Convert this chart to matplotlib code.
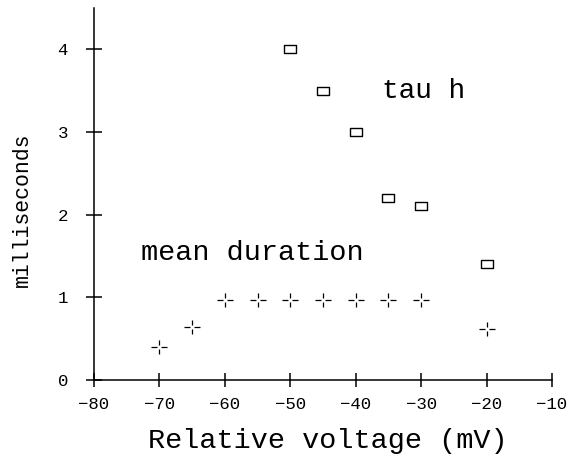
"""Inactivation time constant and mean open duration against relative voltage."""

import matplotlib
matplotlib.use("Agg")
import matplotlib.pyplot as plt
from matplotlib.path import Path

# tau h (open squares)
tau_v = [-50, -45, -40, -35, -30, -20]
tau_ms = [4.0, 3.5, 3.0, 2.2, 2.1, 1.4]

# mean duration (broken crosses)
dur_v = [-70, -65, -60, -55, -50, -45, -40, -35, -30, -20]
dur_ms = [0.40, 0.64, 0.97, 0.97, 0.97, 0.97, 0.97, 0.97, 0.97, 0.62]

xticks = [-80, -70, -60, -50, -40, -30, -20, -10]
yticks = [0, 1, 2, 3, 4]

FONT = "Liberation Mono"
plt.rcParams["font.family"] = [FONT, "DejaVu Sans Mono"]


def open_box():
    # slightly flat rectangle, like a plotter square
    verts = [(-1, -0.8), (1, -0.8), (1, 0.8), (-1, 0.8), (-1, -0.8)]
    codes = [Path.MOVETO] + [Path.LINETO] * 3 + [Path.CLOSEPOLY]
    return Path(verts, codes)


def broken_cross(gap=0.28):
    # plus sign whose four arms stop short of the centre
    verts, codes = [], []
    for (x0, y0), (x1, y1) in [((-1, 0), (-gap, 0)), ((gap, 0), (1, 0)),
                               ((0, -0.85), (0, -gap)), ((0, gap), (0, 0.85))]:
        verts += [(x0, y0), (x1, y1)]
        codes += [Path.MOVETO, Path.LINETO]
    return Path(verts, codes)


fig = plt.figure(figsize=(5.7, 4.55), dpi=100)
ax = fig.add_axes([0.1649, 0.1648, 0.8035, 0.8176])

ax.plot(tau_v, tau_ms, ls="none", marker=open_box(), ms=8,
        mfc="none", mec="black", mew=1.0)
ax.plot(dur_v, dur_ms, ls="none", marker=broken_cross(), ms=11.5,
        mfc="none", mec="black", mew=0.9)

ax.text(-29.7, 3.50, "tau h", fontsize=20, ha="center", va="center")
ax.text(-55.8, 1.535, "mean duration", fontsize=20.5, ha="center", va="center")

ax.set_xlim(-80, -10)
ax.set_ylim(0, 4.5)
ax.set_xticks(xticks)
ax.set_yticks(yticks)
for side in ("top", "right"):
    ax.spines[side].set_visible(False)
for side in ("left", "bottom"):
    ax.spines[side].set_linewidth(1.1)

ax.tick_params(axis="x", direction="inout", length=10, width=1.1,
               pad=7, labelsize=12.5)
ax.tick_params(axis="y", direction="inout", length=11.5, width=1.1,
               pad=13, labelsize=12.5)

ax.set_xlabel("Relative voltage (mV)", fontsize=20.5, va="center")
ax.xaxis.set_label_coords(0.51, -0.164)
ax.set_ylabel("milliseconds", fontsize=15.5, va="center")
ax.yaxis.set_label_coords(-0.157, 0.457)

fig.savefig("out.png", dpi=100)
